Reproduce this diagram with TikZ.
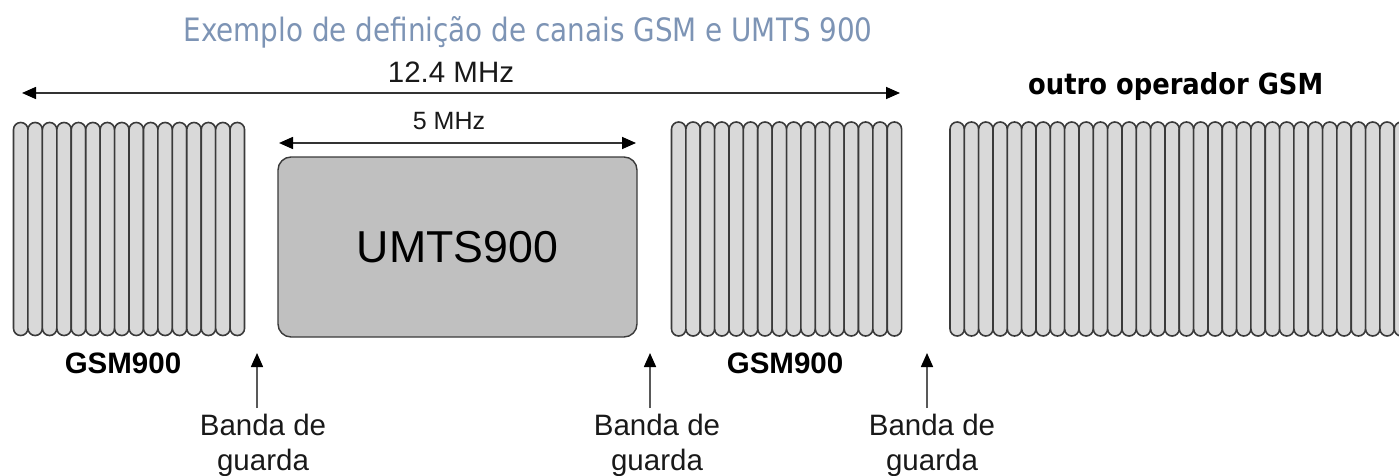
\documentclass[tikz,border=0pt]{standalone}
\usepackage{fontspec}
\setmainfont{Liberation Sans}
\newfontfamily\dejavu{DejaVu Sans}
\usetikzlibrary{arrows.meta}
\definecolor{titlecol}{HTML}{7D94B5}
\definecolor{barfill}{HTML}{D9D9D9}
\definecolor{barline}{HTML}{3A3A3A}
\definecolor{umtsfill}{HTML}{C0C0C0}
\begin{document}
\begin{tikzpicture}[x=1pt,y=-1pt,
  chan/.style={fill=barfill,draw=barline,line width=1.6pt,rounded corners=7.1pt},
  dimarrow/.style={draw=black!80,line width=1.6pt,{Triangle[length=14pt,width=12pt,color=black]}-{Triangle[length=14pt,width=12pt,color=black]}},
  uparrow/.style={draw=black!65,line width=1.6pt,-{Triangle[length=14pt,width=12pt,color=black]}},
  lbl/.style={inner sep=0pt,anchor=base,text=black!90,font=\fontsize{29.5}{35}\selectfont},
  blbl/.style={lbl,text=black,font=\fontsize{29.5}{35}\selectfont\bfseries},
  umts/.style={draw=barline,fill=umtsfill,rounded corners=13pt,line width=1.4pt,minimum width=359pt,minimum height=180pt,inner sep=0pt,font=\fontsize{44.7}{50}\selectfont}]
\useasboundingbox (0,0) rectangle (1399,476);
\clip (0,0) rectangle (1399,476);
% title
\node[anchor=base,inner sep=0pt,text=titlecol] (title) at (528,42) {\resizebox{689pt}{25pt}{\dejavu Exemplo de definição de canais GSM e UMTS 900}};
\node[anchor=base west,inner sep=0pt] (outro) at (1028,95) {\resizebox{295pt}{22pt}{\dejavu\bfseries outro operador GSM}};
% channel blocks
\foreach \i in {0,...,15}
  \draw[chan] ({13.5+\i*14.44},122.5) rectangle ++(14.44,213);
\foreach \i in {0,...,15}
  \draw[chan] ({671.5+\i*14.38},122) rectangle ++(14.38,214);
\foreach \i in {0,...,31}
  \draw[chan] ({950+\i*14.33},122) rectangle ++(14.33,214);
% UMTS box
\node[umts] (umtsbox) at (457.5,247) {UMTS900};
% dimension arrows
\coordinate (w1) at (22,93);
\coordinate (e1) at (900,93);
\draw[dimarrow] (w1) -- (e1);
\node[lbl] (mhz12) at (451,83) {12.4 MHz};
\coordinate (w2) at (279,143);
\coordinate (e2) at (636,143);
\draw[dimarrow] (w2) -- (e2);
\node[lbl,font=\fontsize{25}{30}\selectfont] (mhz5) at (449,129) {5 MHz};
% GSM labels
\node[blbl] (gsmA) at (123,373) {GSM900};
\node[blbl] (gsmB) at (785,373) {GSM900};
% guard bands
\foreach \n/\ax/\tx in {1/257/263,2/650/657,3/927/932}{
  \node[lbl] (banda\n) at (\tx,435) {Banda de};
  \node[lbl] (guarda\n) at (\tx,470) {guarda};
  \coordinate (gs\n) at (\ax,408);
  \coordinate (gt\n) at (\ax,353);
  \draw[uparrow] (gs\n) -- (gt\n);
}
\end{tikzpicture}
\end{document}
